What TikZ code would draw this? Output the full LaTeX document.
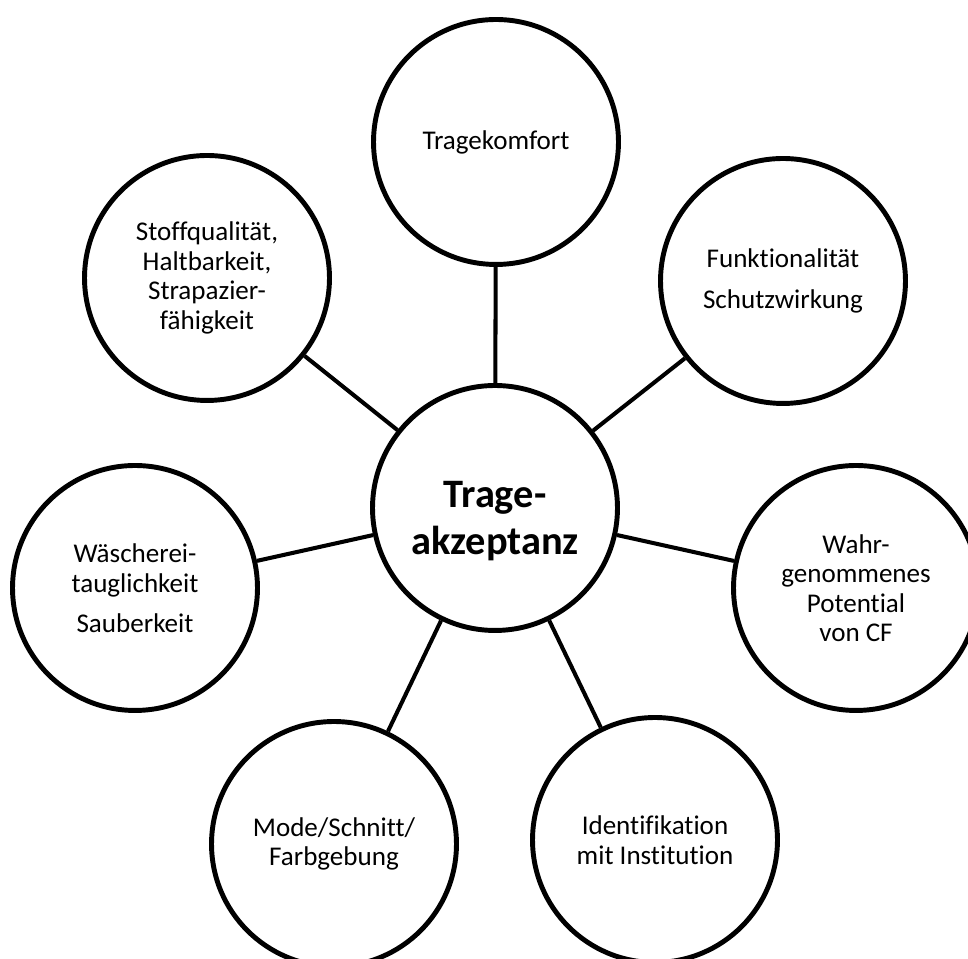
\documentclass[tikz,border=0pt]{standalone}
\usepackage{fontspec}
\setmainfont{Carlito}[Ligatures=NoCommon,Contextuals=NoAlternate]
\usetikzlibrary{positioning}

\begin{document}
\begin{tikzpicture}[x=0.02cm,y=0.02cm,
	Edge/.style={-,black,line width=2.3pt},
	TopicNode/.style={circle,fill=white,draw=black,line width=2.8pt,minimum size=4.9cm,inner sep=0pt,align=center,font=\fontsize{15.4}{16.8}\selectfont},
	HubNode/.style={TopicNode,font=\fontsize{23}{27}\selectfont\bfseries},
]
	\useasboundingbox (0,0) rectangle (968,959);
	\node[HubNode,label={[align=center,font=\fontsize{23}{27}\selectfont\bfseries,yshift=-0.26cm]center:Trage-\\akzeptanz}] (H) at (495,451){};
	\node[TopicNode] (A) at (496,817){Tragekomfort};
	\node[TopicNode] (B) at (783,678){Funktionalität\\[7pt]Schutzwirkung};
	\node[TopicNode] (C) at (856,371){Wahr-\\genommenes\\Potential\\von CF};
	\node[TopicNode] (D) at (655,119){Identifikation\\mit Institution};
	\node[TopicNode] (E) at (334,115){Mode/Schnitt/\\Farbgebung};
	\node[TopicNode] (F) at (135,371){Wäscherei-\\tauglichkeit\\[6pt]Sauberkeit};
	\node[TopicNode] (G) at (207,681){Stoffqualität,\\Haltbarkeit,\\Strapazier-\\fähigkeit};
	
	\path[Edge]
	(H) edge (A)
	(H) edge (B)
	(H) edge (C)
	(H) edge (D)
	(H) edge (E)
	(H) edge (F)
	(H) edge (G)
	;
\end{tikzpicture}
\end{document}
